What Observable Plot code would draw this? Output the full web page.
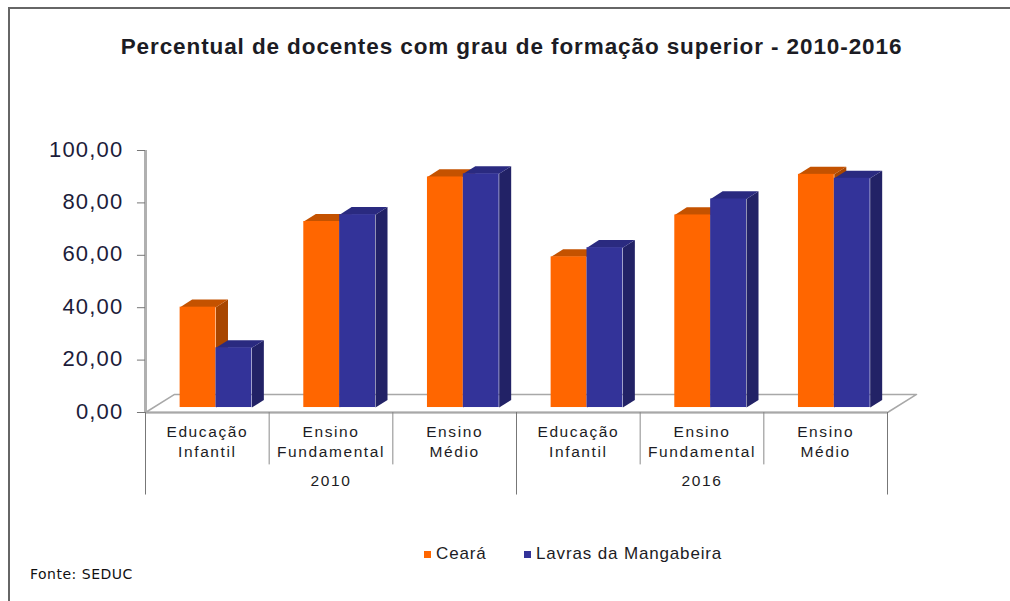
<!DOCTYPE html>
<html lang="pt">
<head>
<meta charset="utf-8">
<script src="https://cdn.jsdelivr.net/npm/d3@7"></script>
<script src="https://cdn.jsdelivr.net/npm/@observablehq/plot@0.6"></script>
<style>
html,body{margin:0;padding:0;background:#fff;}
#page{position:relative;width:1010px;height:601px;overflow:hidden;font-family:"Liberation Sans",Arial,sans-serif;color:#1c1c24;}
#frame{position:absolute;left:8px;top:7px;width:1010px;height:700px;border-left:2px solid #666;border-top:2px solid #666;}
#title{position:absolute;left:0;width:1023px;top:34px;text-align:center;font-weight:bold;font-size:22.5px;letter-spacing:.9px;white-space:nowrap;}
#legend{position:absolute;left:424px;top:544px;font-size:17px;letter-spacing:.85px;white-space:nowrap;line-height:20px;}
#legend span{position:absolute;top:0;white-space:nowrap;}
#legend i{position:absolute;width:7px;height:7px;top:7px;}
#source{position:absolute;left:30px;top:566px;font-family:"DejaVu Sans",sans-serif;font-size:14px;letter-spacing:.5px;color:#111;}
#chart{position:absolute;left:0;top:0;}
.ytick text{letter-spacing:1.2px;}
.catlabel text{letter-spacing:1.6px;}
</style>
</head>
<body>
<div id="page">
  <div id="frame"></div>
  <div id="chart"></div>
  <div id="title">Percentual de docentes com grau de formação superior - 2010-2016</div>
  <div id="legend">
    <i style="left:0;background:#FF6600"></i><span style="left:12px">Ceará</span>
    <i style="left:100px;background:#333399"></i><span style="left:112px">Lavras da Mangabeira</span>
  </div>
  <div id="source">Fonte: SEDUC</div>
</div>
<script>
const categories = ["Educação\nInfantil", "Ensino\nFundamental", "Ensino\nMédio", "Educação\nInfantil", "Ensino\nFundamental", "Ensino\nMédio"];
const years = ["2010", "2016"];
const ceara = [38.3, 71, 88, 57.5, 73.5, 89];
const lavras = [22.8, 73.6, 89.2, 61, 79.6, 87.5];
const yTicks = [0, 20, 40, 60, 80, 100];

// Depth of the pseudo-3D projection, in scale units
const barInset = 0.28, barWidth = 0.29;
const base = 1.9, depthX = 0.097, depthY = 2.9;
const floorX = 0.235, floorY = 6.9;

const bars = (values, offset) => values.map((v, i) => ({
  x1: i + barInset + offset * barWidth,
  x2: i + barInset + (offset + 1) * barWidth,
  y1: base,
  y2: base + v
}));
const faces = (rows, prefix, sideColor, topColor) => rows.flatMap((b, i) => [
  ...[[b.x2, b.y1], [b.x2 + depthX, b.y1 + depthY], [b.x2 + depthX, b.y2 + depthY], [b.x2, b.y2]]
    .map(([x, y]) => ({x, y, id: `${prefix}-s${i}`, fill: sideColor})),
  ...[[b.x1, b.y2], [b.x1 + depthX, b.y2 + depthY], [b.x2 + depthX, b.y2 + depthY], [b.x2, b.y2]]
    .map(([x, y]) => ({x, y, id: `${prefix}-t${i}`, fill: topColor}))
]);
const cearaBars = bars(ceara, 0), lavrasBars = bars(lavras, 1);
const floor = [[0, 0], [floorX, floorY], [6 + floorX, floorY], [6, 0]].map(([x, y]) => ({x, y}));
const poly = (rows) => Plot.line(rows, {x: "x", y: "y", z: "id", fill: "fill", stroke: null, curve: "linear-closed"});
const font = '"Liberation Sans",Arial,sans-serif';
const comma = (d) => d3.format(".2f")(d).replace(".", ",");

const chart = Plot.plot({
  width: 1010,
  height: 601,
  marginLeft: 145,
  marginRight: 123,
  marginTop: 150,
  marginBottom: 189,
  style: {background: "transparent", fontFamily: font},
  x: {type: "linear", domain: [0, 6], axis: null},
  y: {domain: [0, 100], axis: null},
  marks: [
    Plot.line(floor, {x: "x", y: "y", stroke: "#a8a8a8", strokeWidth: 1.5, curve: "linear-closed"}),
    poly(faces(cearaBars, "c", "#A84600", "#C45200")),
    Plot.rect(cearaBars, {x1: "x1", x2: "x2", y1: "y1", y2: "y2", fill: "#FF6600"}),
    poly(faces(lavrasBars, "l", "#222266", "#2A2A80")),
    Plot.rect(lavrasBars, {x1: "x1", x2: "x2", y1: "y1", y2: "y2", fill: "#333399"}),
    Plot.ruleX([0], {y1: 0, y2: 100, stroke: "#b0b0b0", strokeWidth: 3}),
    Plot.ruleY([0], {x1: 0, x2: 6, stroke: "#a8a8a8", strokeWidth: 2}),
    Plot.ruleX([1, 2, 4, 5], {y1: 0, y2: -20, stroke: "#8a8a8a", strokeWidth: 1}),
    Plot.ruleX([0, 3, 6], {y1: 0, y2: -31.5, stroke: "#777", strokeWidth: 1}),
    Plot.ruleY(yTicks, {x1: -0.065, x2: 0, stroke: "#777", strokeWidth: 1}),
    Plot.text(yTicks, {x: 0, y: (d) => d, text: comma, textAnchor: "end", dx: -22, dy: -1, fontSize: 22, fill: "#1c1c3a", className: "ytick"}),
    Plot.text(categories, {x: (d, i) => i + 0.5, y: 0, text: (d) => d, lineAnchor: "top", dy: 10, fontSize: 15.5, lineHeight: 1.3, fill: "#1c1c24", className: "catlabel"}),
    Plot.text(years, {x: (d, i) => 1.5 + i * 3, y: 0, text: (d) => d, lineAnchor: "top", dy: 62, fontSize: 15.5, fill: "#1c1c24", className: "catlabel"})
  ]
});
document.getElementById("chart").appendChild(chart);
</script>
</body>
</html>
